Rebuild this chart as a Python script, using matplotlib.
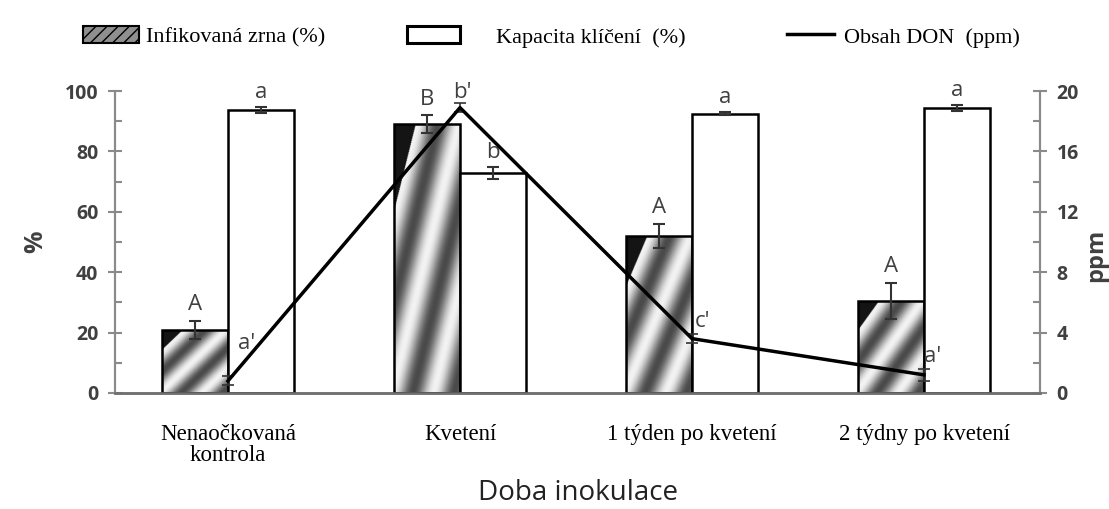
import numpy as np
import matplotlib.pyplot as plt
from matplotlib.lines import Line2D
from matplotlib.patches import Patch
from matplotlib.ticker import MultipleLocator

# data
categories = ["Nenaočkovaná\nkontrola", "Kvetení", "1 týden po kvetení", "2 týdny po kvetení"]
infected = [21, 89, 52, 30.5]          # Infikovaná zrna (%)
infected_err = [3, 3, 4, 6]
infected_letters = ["A", "B", "A", "A"]
germination = [93.7, 72.8, 92.5, 94.3]  # Kapacita klíčení (%)
germination_err = [1, 2, 0.5, 1]
germination_letters = ["a", "b", "a", "a"]
don = [0.8, 18.9, 3.6, 1.2]            # Obsah DON (ppm)
don_err = [0.3, 0.3, 0.3, 0.4]
don_letters = ["a'", "b'", "c'", "a'"]
don_offsets = [(19, 37), (2, 15), (10, 17), (9, 18)]

serif = "Liberation Serif"
sans = "Open Sans"
tick_col = "#404040"
spine_col = "#8a8a8a"

fig = plt.figure(figsize=(11.09, 5.09), dpi=100)
ax = fig.add_axes([0.1037, 0.2279, 0.8341, 0.5933])
ax2 = ax.twinx()

x = np.arange(len(categories))
w = 0.285

# gradient stripe texture for infected bars (normalised bar coordinates)
u, v = np.meshgrid(np.linspace(0, 1, 120), np.linspace(1, 0, 240))
d = v - u
tex = 0.62 + 0.33 * np.cos(2 * np.pi * 1.6 * (d - 0.03))
tex[d > 0.68] = 0.08

bars = ax.bar(x - w / 2, infected, w, facecolor="none", edgecolor="black",
              linewidth=1.8, zorder=3)
for b in bars:
    x0, y0 = b.get_x(), b.get_y()
    im = ax.imshow(tex, cmap="gray", vmin=0, vmax=1, aspect="auto",
                   extent=[x0, x0 + b.get_width(), y0, y0 + b.get_height()],
                   zorder=2, interpolation="bilinear")
    im.set_clip_path(b)
ax.errorbar(x - w / 2, infected, yerr=infected_err, fmt="none", ecolor="#333333",
            elinewidth=1.5, capsize=4, capthick=1.5, zorder=4)

ax.bar(x + w / 2, germination, w, facecolor="white", edgecolor="black",
       linewidth=1.8, zorder=3)
ax.errorbar(x + w / 2, germination, yerr=germination_err, fmt="none", ecolor="#333333",
            elinewidth=1.5, capsize=4, capthick=1.5, zorder=4)

for i in range(len(categories)):
    ax.annotate(infected_letters[i], (x[i] - w / 2, infected[i] + infected_err[i]),
                xytext=(0, 4), textcoords="offset points", ha="center", va="bottom",
                fontsize=16, color=tick_col, family=sans, zorder=6)
    ax.annotate(germination_letters[i], (x[i] + w / 2, germination[i] + germination_err[i]),
                xytext=(0, 3), textcoords="offset points", ha="center", va="bottom",
                fontsize=16, color=tick_col, family=sans, zorder=6)

ax.set_xlim(-0.487, 3.5)
ax.set_ylim(0, 100)
ax.set_xticks(x)
ax.set_xticklabels(categories, family=serif, fontsize=16.5, linespacing=1.0)
ax.tick_params(axis="x", length=0, pad=22)
ax.yaxis.set_major_locator(MultipleLocator(20))
ax.yaxis.set_minor_locator(MultipleLocator(10))
ax.tick_params(axis="y", which="major", direction="inout", length=10, width=1.5,
               color=spine_col, labelcolor=tick_col, labelsize=14, pad=7)
ax.tick_params(axis="y", which="minor", direction="in", length=5, width=1.5, color=spine_col)
for lab in ax.get_yticklabels():
    lab.set_fontweight("bold")
    lab.set_family(sans)
ax.set_ylabel("%", fontsize=18, fontweight="bold", color=tick_col, family=sans, labelpad=12)
ax.set_xlabel("Doba inokulace", family=sans, fontsize=20, color="#222222", labelpad=10)

ax2.set_ylim(0, 20)
ax2.yaxis.set_major_locator(MultipleLocator(4))
ax2.yaxis.set_minor_locator(MultipleLocator(2))
ax2.tick_params(axis="y", which="major", direction="inout", length=10, width=1.5,
                color=spine_col, labelcolor=tick_col, labelsize=14, pad=7)
ax2.tick_params(axis="y", which="minor", direction="in", length=5, width=1.5, color=spine_col)
for lab in ax2.get_yticklabels():
    lab.set_fontweight("bold")
    lab.set_family(sans)

ax2.errorbar(x, don, yerr=don_err, color="black", lw=2.5, ecolor="#333333",
             elinewidth=1.2, capsize=4, capthick=1.2, zorder=5)
for i in range(len(categories)):
    ax2.annotate(don_letters[i], (x[i], don[i]), xytext=don_offsets[i],
                 textcoords="offset pixels", ha="center", va="center",
                 fontsize=16, color=tick_col, family=sans, zorder=6)
fig.text(1084 / 1109, 1 - 255 / 509, "ppm", rotation=90, fontsize=17, fontweight="bold",
         color=tick_col, family=sans, ha="left", va="center")

for a in (ax, ax2):
    a.spines["top"].set_visible(False)
    for s in ("left", "right"):
        a.spines[s].set_color(spine_col)
        a.spines[s].set_linewidth(1.5)
    a.spines["bottom"].set_color("#707070")
    a.spines["bottom"].set_linewidth(1.8)

# legend: three separate entries placed like in the original
legend_items = [
    (Patch(facecolor="#8f8f8f", edgecolor="black", hatch="///", linewidth=1.5),
     "Infikovaná zrna (%)", 83, 2.5, 0.35),
    (Patch(facecolor="white", edgecolor="black", linewidth=2.2),
     "Kapacita klíčení  (%)", 407, 2.4, 1.6),
    (Line2D([0], [0], color="black", lw=2.5),
     "Obsah DON  (ppm)", 787, 2.1, 0.45),
]
for h, lab, px, hl, tp in legend_items:
    fig.legend([h], [lab], loc="center left", bbox_to_anchor=(px / 1109, 1 - 37 / 509),
               frameon=False, prop={"family": serif, "size": 16}, borderpad=0,
               borderaxespad=0, handlelength=hl, handleheight=0.8, handletextpad=tp)

fig.savefig("out.png", dpi=100)
